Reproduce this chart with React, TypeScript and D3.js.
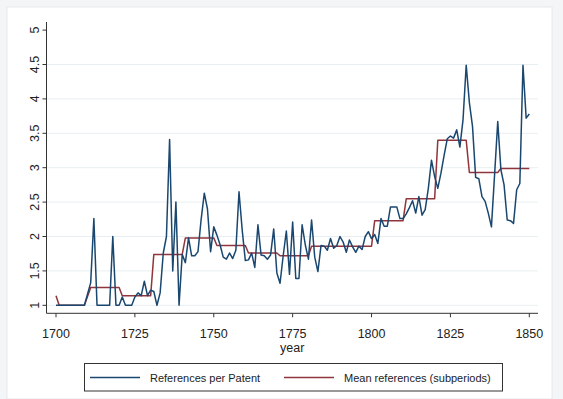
import React from "react";
import * as d3 from "d3";

const years: number[] = [
  1700, 1701, 1702, 1703, 1704, 1705, 1706, 1707, 1708, 1709,
  1711, 1712, 1713, 1714, 1715, 1716, 1717, 1718, 1719, 1720,
  1721, 1722, 1723, 1724, 1725, 1726, 1727, 1728, 1729, 1730,
  1731, 1732, 1733, 1734, 1735, 1736, 1737, 1738, 1739, 1740,
  1741, 1742, 1743, 1744, 1745, 1746, 1747, 1748, 1749, 1750,
  1751, 1752, 1753, 1754, 1755, 1756, 1757, 1758, 1759, 1760,
  1761, 1762, 1763, 1764, 1765, 1766, 1767, 1768, 1769, 1770,
  1771, 1772, 1773, 1774, 1775, 1776, 1777, 1778, 1779, 1780,
  1781, 1782, 1783, 1784, 1785, 1786, 1787, 1788, 1789, 1790,
  1791, 1792, 1793, 1794, 1795, 1796, 1797, 1798, 1799, 1800,
  1801, 1802, 1803, 1804, 1805, 1806, 1807, 1808, 1809, 1810,
  1811, 1812, 1813, 1814, 1815, 1816, 1817, 1818, 1819, 1820,
  1821, 1822, 1823, 1824, 1825, 1826, 1827, 1828, 1829, 1830,
  1831, 1832, 1833, 1834, 1835, 1836, 1837, 1838, 1839, 1840,
  1841, 1842, 1843, 1844, 1845, 1846, 1847, 1848, 1849, 1850,
];

const refsPerPatent: number[] = [
  1.0, 1.0, 1.0, 1.0, 1.0, 1.0, 1.0, 1.0, 1.0, 1.0,
  1.33, 2.26, 1.0, 1.0, 1.0, 1.0, 1.0, 2.0, 1.0, 1.0,
  1.12, 1.0, 1.0, 1.0, 1.12, 1.18, 1.14, 1.35, 1.14, 1.22,
  1.2, 1.0, 1.18, 1.76, 2.0, 3.41, 1.5, 2.5, 1.0, 1.74,
  1.62, 1.98, 1.72, 1.72, 1.78, 2.25, 2.63, 2.4, 1.78, 2.14,
  2.02, 1.88, 1.7, 1.67, 1.76, 1.68, 1.8, 2.65, 2.1, 1.65,
  1.66, 1.76, 1.55, 2.17, 1.73, 1.72, 1.67, 1.73, 2.11, 1.47,
  1.32, 1.72, 2.08, 1.45, 2.21, 1.39, 1.39, 2.17, 1.88, 1.67,
  2.24, 1.7, 1.49, 1.87, 1.86, 1.8, 1.97, 1.83, 1.87, 2.0,
  1.92, 1.77, 1.95, 1.85, 1.77, 1.86, 1.81, 2.0, 2.07, 1.97,
  2.03, 1.9, 2.26, 2.15, 2.15, 2.43, 2.43, 2.43, 2.26, 2.26,
  2.33, 2.42, 2.52, 2.34, 2.58, 2.31, 2.39, 2.7, 3.11, 2.87,
  2.7, 2.92, 3.18, 3.42, 3.46, 3.43, 3.55, 3.3, 3.7, 4.49,
  3.95, 3.6, 2.86, 2.84, 2.58, 2.51, 2.34, 2.14, 2.9, 3.67,
  2.97, 2.75, 2.24, 2.23, 2.19, 2.68, 2.77, 4.49, 3.72, 3.78,
];

// Subperiod means: [first year, last year, mean]
const periodStart: number[] = [1700, 1701, 1711, 1721, 1731, 1741, 1751, 1761, 1771, 1781, 1801, 1811, 1821, 1831, 1841];
const periodEnd: number[] = [1700, 1709, 1720, 1730, 1740, 1750, 1760, 1770, 1780, 1800, 1810, 1820, 1830, 1840, 1850];
const periodMean: number[] = [1.14, 1.0, 1.26, 1.14, 1.74, 1.98, 1.87, 1.76, 1.72, 1.86, 2.23, 2.55, 3.4, 2.93, 2.99];

const xTicks: number[] = [1700, 1725, 1750, 1775, 1800, 1825, 1850];
const yTicks: number[] = [1, 1.5, 2, 2.5, 3, 3.5, 4, 4.5, 5];

const seriesLabels: string[] = ["References per Patent", "Mean references (subperiods)"];
const xTitle = "year";

const W = 563;
const H = 399;
const BLUE = "#1a476f";
const RED = "#90353b";
const FONT = "'Liberation Sans', Arial, sans-serif";

export default function App() {
  const x = d3.scaleLinear().domain([1700, 1850]).range([56, 529.3]);
  const y = d3.scaleLinear().domain([1, 5]).range([305.3, 30.1]);

  const bluePts: [number, number][] = years.map((yr, i) => [yr, refsPerPatent[i]]);
  const redPts: [number, number][] = [];
  periodStart.forEach((s, i) => {
    redPts.push([s, periodMean[i]]);
    if (periodEnd[i] !== s) redPts.push([periodEnd[i], periodMean[i]]);
  });

  const line = d3
    .line<[number, number]>()
    .x((d) => x(d[0]))
    .y((d) => y(d[1]));

  const axisX = 46.5;
  const axisY = 313.3;
  const plotRight = 538;
  const plotTop = 22;

  return (
    <svg
      width={W}
      height={H}
      style={{ position: "fixed", left: 0, top: 0, display: "block" }}
      fontFamily={FONT}
    >
      <rect x={0} y={0} width={W} height={H} fill="#f3f5f7" />
      <rect x={7} y={7} width={545} height={392} fill="#ffffff" stroke="#e6eaee" strokeWidth={1} />

      {/* gridlines */}
      {yTicks
        .filter((t) => t < 5)
        .map((t) => (
          <line
            key={"g" + t}
            x1={axisX}
            x2={plotRight}
            y1={y(t)}
            y2={y(t)}
            stroke="#e8eff2"
            strokeWidth={1}
          />
        ))}

      {/* axes */}
      <line x1={axisX} x2={axisX} y1={plotTop} y2={axisY} stroke="#333" strokeWidth={1} />
      <line x1={axisX} x2={plotRight} y1={axisY} y2={axisY} stroke="#333" strokeWidth={1} />

      {yTicks.map((t) => (
        <g key={"y" + t}>
          <line x1={axisX - 4} x2={axisX} y1={y(t)} y2={y(t)} stroke="#333" strokeWidth={1} />
          <text
            transform={`translate(${axisX - 8},${y(t)}) rotate(-90)`}
            textAnchor="middle"
            fontSize={12.5}
            fill="#222"
          >
            {String(t)}
          </text>
        </g>
      ))}

      {xTicks.map((t) => (
        <g key={"x" + t}>
          <line x1={x(t)} x2={x(t)} y1={axisY} y2={axisY + 4} stroke="#333" strokeWidth={1} />
          <text x={x(t)} y={338} textAnchor="middle" fontSize={12.5} fill="#222">
            {t}
          </text>
        </g>
      ))}
      <text x={(axisX + plotRight) / 2} y={352} textAnchor="middle" fontSize={12.5} fill="#222">
        {xTitle}
      </text>

      {/* series */}
      <path d={line(redPts) || ""} fill="none" stroke={RED} strokeWidth={1.5} strokeLinejoin="round" />
      <path d={line(bluePts) || ""} fill="none" stroke={BLUE} strokeWidth={1.5} strokeLinejoin="round" />

      {/* legend */}
      <rect x={84.5} y={363.5} width={418} height={27.5} fill="#fff" stroke="#333" strokeWidth={1} />
      <line x1={90} x2={140} y1={377.5} y2={377.5} stroke={BLUE} strokeWidth={1.5} />
      <text x={150} y={381.5} fontSize={11} fill="#222">
        {seriesLabels[0]}
      </text>
      <line x1={284} x2={334} y1={377.5} y2={377.5} stroke={RED} strokeWidth={1.5} />
      <text x={344} y={381.5} fontSize={11} fill="#222">
        {seriesLabels[1]}
      </text>
    </svg>
  );
}
